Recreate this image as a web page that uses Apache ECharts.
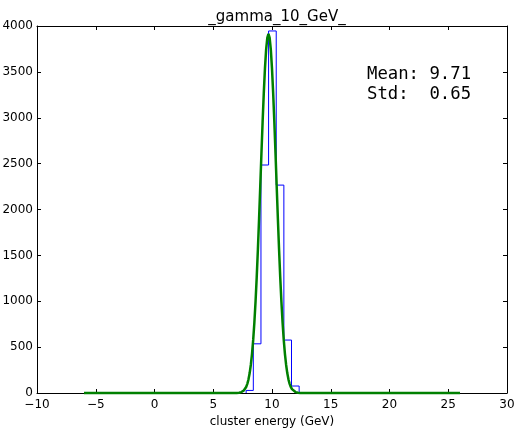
<!DOCTYPE html>
<html><head><meta charset="utf-8">
<script src="https://cdn.jsdelivr.net/npm/echarts@6/dist/echarts.min.js"></script>
<style>html,body{margin:0;padding:0;background:#fff}#c{width:518px;height:428px}</style>
</head><body><div id="c"></div>
<script>
// Histogram bin edges (GeV) and counts
const binEdges = [7.80, 8.41, 9.06, 9.71, 10.36, 11.01, 11.66, 12.31];
const binCounts = [28, 536, 2485, 3946, 2266, 577, 76];
// Gaussian fit curve
const fitX = [-6, 7.0, 7.2, 7.4, 7.6, 7.7, 7.8, 7.9, 8.0, 8.1, 8.2, 8.3, 8.4, 8.5, 8.6, 8.7, 8.8, 8.9, 9.0, 9.1, 9.2, 9.3, 9.4, 9.5, 9.6, 9.7, 9.8, 9.9, 10.0, 10.1, 10.2, 10.3, 10.4, 10.5, 10.6, 10.7, 10.8, 10.9, 11.0, 11.1, 11.2, 11.3, 11.4, 11.5, 11.6, 11.7, 11.8, 12.0, 12.2, 12.4, 26];
const fitY = [0, 1, 3, 10, 27, 42, 66, 100, 149, 217, 308, 427, 579, 768, 997, 1263, 1566, 1899, 2250, 2607, 2951, 3266, 3536, 3742, 3871, 3915, 3871, 3742, 3536, 3266, 2951, 2607, 2250, 1899, 1566, 1263, 997, 768, 579, 427, 308, 217, 149, 100, 66, 42, 27, 10, 3, 1, 0];
const xTicks = [-10, -5, 0, 5, 10, 15, 20, 25, 30];
const yTicks = [0, 500, 1000, 1500, 2000, 2500, 3000, 3500, 4000];
const titleText = '_gamma_10_GeV_';
const statsText = 'Mean: 9.71\nStd:  0.65';

const stepData = [];
stepData.push([binEdges[0], 0]);
for (let i = 0; i < binCounts.length; i++) {
  stepData.push([binEdges[i], binCounts[i]]);
  stepData.push([binEdges[i + 1], binCounts[i]]);
}
stepData.push([binEdges[binEdges.length - 1], 0]);
const fitData = fitX.map((x, i) => [x, fitY[i]]);

const font = 'DejaVu Sans';
const fmt = v => String(v).replace('-', '\u2212');
const lineStyle = { color: '#000', width: 1 };
const tick = { show: true, inside: true, length: 4, lineStyle: { color: '#000' } };

const chart = echarts.init(document.getElementById('c'), null, { renderer: 'canvas' });
chart.setOption({
  animation: false,
  title: {
    text: titleText, left: 272, top: 5, textAlign: 'center',
    textStyle: { fontFamily: font, fontSize: 15, fontWeight: 'normal', color: '#000' }
  },
  grid: { left: 37, right: 11, top: 26, bottom: 35, containLabel: false, outerBoundsMode: 'none' },
  xAxis: [{
    type: 'value', min: xTicks[0], max: xTicks[xTicks.length - 1], interval: 5,
    position: 'bottom',
    name: 'cluster energy (GeV)', nameLocation: 'middle', nameGap: 22,
    nameTextStyle: { fontFamily: font, fontSize: 12, color: '#000' },
    axisLine: { show: true, onZero: false, lineStyle }, axisTick: tick,
    axisLabel: { fontFamily: font, fontSize: 12, color: '#000', margin: 6, formatter: fmt, showMinLabel: true, showMaxLabel: true },
    splitLine: { show: false }
  }, {
    type: 'value', min: xTicks[0], max: xTicks[xTicks.length - 1], interval: 5,
    position: 'top',
    axisLine: { show: true, onZero: false, lineStyle }, axisTick: tick,
    axisLabel: { show: false }, splitLine: { show: false }
  }],
  yAxis: [{
    type: 'value', min: yTicks[0], max: yTicks[yTicks.length - 1], interval: 500,
    position: 'left',
    axisLine: { show: true, onZero: false, lineStyle }, axisTick: tick,
    axisLabel: { fontFamily: font, fontSize: 12, color: '#000', margin: 4, formatter: v => String(v), showMinLabel: true, showMaxLabel: true },
    splitLine: { show: false }
  }, {
    type: 'value', min: yTicks[0], max: yTicks[yTicks.length - 1], interval: 500,
    position: 'right',
    axisLine: { show: true, onZero: false, lineStyle }, axisTick: tick,
    axisLabel: { show: false }, splitLine: { show: false }
  }],
  series: [{
    type: 'line', data: stepData, xAxisIndex: 0, yAxisIndex: 0,
    showSymbol: false, symbol: 'none',
    lineStyle: { color: '#0000ff', width: 1 }, z: 2
  }, {
    type: 'line', data: fitData, xAxisIndex: 0, yAxisIndex: 0,
    showSymbol: false, symbol: 'none', clip: false,
    lineStyle: { color: '#008000', width: 2.5 }, z: 3
  }],
  graphic: [{
    type: 'text', left: 367, top: 64,
    style: { text: statsText, font: '17.3px "DejaVu Sans Mono"', fill: '#000', lineHeight: 20.5 }
  }]
});
</script></body></html>
